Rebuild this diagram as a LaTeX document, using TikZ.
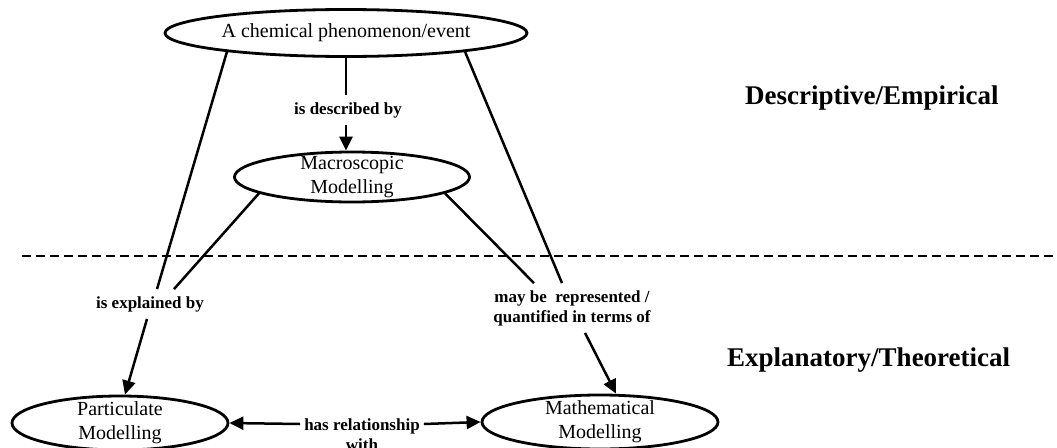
\documentclass[tikz,border=0pt]{standalone}
\usepackage{fontspec}
\setmainfont{Liberation Serif}
\usetikzlibrary{shapes.geometric,arrows.meta}

\begin{document}
\begin{tikzpicture}[x=1pt, y=-1pt,
    concept/.style={ellipse, draw, line width=2.8pt, inner sep=-20pt, align=center,
                    font=\fontsize{20}{24}\selectfont},
    lien/.style={align=center, inner xsep=4pt, inner ysep=7pt,
                 font=\bfseries\fontsize{17}{20}\selectfont},
    zone/.style={anchor=west, inner sep=0pt, font=\bfseries\fontsize{27}{30}\selectfont},
    trait/.style={line width=2.5pt},
    fleche/.style={line width=2.5pt, -{Triangle[length=14pt,width=13pt]}}]

    \useasboundingbox (0,0) rectangle (1057,447);

    % Concepts (ellipses)
    \node[concept, minimum width=362pt, minimum height=47pt] (evt) at (346,33) {A chemical phenomenon/event};
    \node[concept, minimum width=235pt, minimum height=50pt] (mac) at (352,177) {Macroscopic\\Modelling};
    \node[concept, minimum width=216pt, minimum height=54pt] (par) at (120,423) {Particulate\\Modelling};
    \node[concept, minimum width=236pt, minimum height=54pt] (mat) at (600,422) {Mathematical\\Modelling};

    % Mots de liaison
    \node[lien] (decrit) at (348,110) {is described by};
    \node[lien] (explique) at (150,304) {is explained by};
    \node[lien] (represente) at (572,308) {may be~ represented /\\quantified in terms of};
    \node[lien] (relation) at (362,435) {has relationship\\with};

    % Séparation descriptif / théorique
    \coordinate (sepG) at (22,256);
    \coordinate (sepD) at (1057,256);
    \draw[line width=2.4pt, dash pattern=on 9pt off 5pt] (sepG) -- (sepD);

    \node[zone] (descr) at (745,98) {Descriptive/Empirical};
    \node[zone] (explic) at (727,360) {Explanatory/Theoretical};

    % Liens du haut
    \draw[trait] (evt.south) -- (evt.south |- decrit.north);
    \draw[fleche] (evt.south |- decrit.south) -- (evt.south |- mac.north);

    % Vers les mots de liaison
    \draw[trait] (evt.189) -- ([xshift=7pt]explique.north);
    \draw[trait] (mac.190) -- ([xshift=24pt]explique.north);
    \draw[trait] (evt.-9) -- ([xshift=-10pt]represente.north);
    \draw[trait] (mac.-10) -- ([xshift=-38pt]represente.north);

    % Flèches vers le bas
    \draw[fleche] ([xshift=-3pt]explique.south) -- ([xshift=5pt]par.north);
    \draw[fleche] ([xshift=13pt]represente.south) -- ([xshift=16pt]mat.north);

    % Relation double
    \draw[fleche] ([yshift=11pt]relation.west) -- (par.east);
    \draw[fleche] ([yshift=11pt]relation.east) -- (mat.west);
\end{tikzpicture}
\end{document}
